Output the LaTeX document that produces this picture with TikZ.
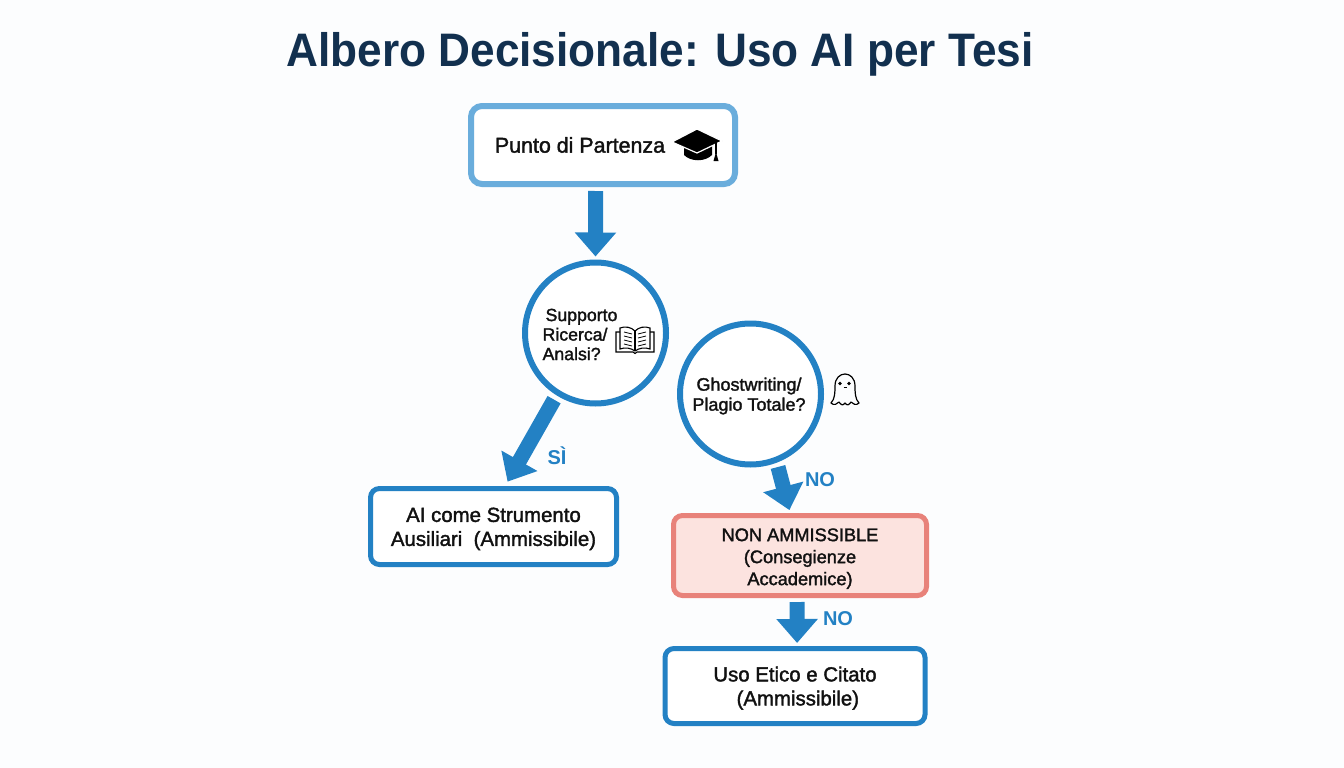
\documentclass[tikz,border=0pt]{standalone}
\usepackage{fontspec}
\setmainfont{Liberation Sans}
\newfontfamily\bodyfont{Liberation Sans}[FakeBold=1.7]
\newfontfamily\titlefont{Liberation Sans}[FakeStretch=0.94]
\usetikzlibrary{arrows.meta}

\definecolor{titlenavy}{HTML}{12304F}
\definecolor{flowblue}{HTML}{2381C4}
\definecolor{startblue}{HTML}{6AADDC}
\definecolor{stopred}{HTML}{E8827A}
\definecolor{stopfill}{HTML}{FCE3DF}
\definecolor{pagewhite}{HTML}{FCFDFE}
\definecolor{inkblack}{HTML}{111111}

\newcommand{\lowertext}[1]{\rule{0pt}{#1}}

\tikzset{
  boxnode/.style={draw=flowblue, fill=white, text=inkblack, line width=5pt, rounded corners=9pt, inner sep=0pt, align=center, font=\bodyfont\fontsize{20.4}{24}\selectfont},
  asknode/.style={draw=flowblue, fill=white, line width=6pt, circle, minimum size=141pt, inner sep=0pt},
  asktext/.style={inner sep=0pt, text=inkblack, align=center, font=\bodyfont\fontsize{18}{20}\selectfont},
  bigarrow/.style={draw=flowblue, line width=15pt, -{Triangle[length=24pt,width=40pt]}},
  answer/.style={inner sep=0pt, text=flowblue, font=\bfseries\fontsize{20}{24}\selectfont},
}

\begin{document}
\begin{tikzpicture}[x=1pt, y=-1pt]
  \path[fill=pagewhite, use as bounding box] (0,0) rectangle (1344,768);

  \node[inner sep=0pt, text=titlenavy, font=\titlefont\bfseries\fontsize{47}{56}\selectfont] (title) at (660,54) {Albero Decisionale: Uso AI per Tesi};

  \node[boxnode, draw=startblue, line width=6pt, rounded corners=11pt, minimum width=264pt, minimum height=78pt] (start) at (603,145) {};
  \node[inner sep=0pt, text=inkblack, font=\bodyfont\fontsize{21.4}{24}\selectfont] (starttext) at (580,145) {Punto di Partenza};

  \node[asknode] (ricerca) at (595.5,333) {};
  \node[asktext, align=left, font=\bodyfont\fontsize{17.7}{19.5}\selectfont] (ricercatext) at (580,334.5) {\hspace*{3pt}Supporto\\Ricerca/\\Analsi?};

  \node[asknode] (ghost) at (750.5,394) {};
  \node[asktext] (ghosttext) at (749,396) {Ghostwriting/\\Plagio Totale?};

  \node[boxnode, minimum width=246pt, minimum height=76pt] (strumento) at (493.5,526.5) {\lowertext{19pt}AI come Strumento\\Ausiliari\ \ (Ammissibile)};
  \node[boxnode, draw=stopred, fill=stopfill, minimum width=253pt, minimum height=80pt, font=\bodyfont\fontsize{18.2}{22}\selectfont] (stop) at (800,555.5) {\lowertext{19pt}NON AMMISSIBLE\\(Consegienze\\Accademice)};
  \node[boxnode, minimum width=260pt, minimum height=75pt] (etico) at (795,686) {\lowertext{19pt}Uso Etico e Citato\\\ (Ammissibile)};

  \draw[bigarrow, shorten <=4pt, shorten >=3pt] (start.-100) -- (ricerca.north);
  \draw[bigarrow, shorten <=5pt, shorten >=5pt] (ricerca.-122) -- (strumento.74);
  \draw[bigarrow, shorten <=4.5pt, shorten >=3pt] (ghost.-69) -- (stop.103);
  \draw[bigarrow, shorten <=4pt, shorten >=3pt] (stop.-94) -- (etico.87);

  \node[answer] (si) at (557,456) {SÌ};
  \node[answer] (noone) at (820,480) {NO};
  \node[answer] (notwo) at (838,619) {NO};

  % cap
  \begin{scope}[shift={(697,146)}]
    \fill[black] (-13,-2) -- (15,-2) -- (15,9) .. controls (8,16) and (-6,16) .. (-13,9) -- cycle;
    \fill[black, draw=white, line width=1.2pt] (-25,-4) -- (0,-17) -- (25,-5) -- (0,7) -- cycle;
    \draw[black, line width=1.2pt] (19,-4) -- (19,8);
    \fill[black] (19,6) -- (21.5,15) -- (16.5,15) -- cycle;
  \end{scope}

  % book
  \begin{scope}[shift={(635,340)}, black, line width=1.1pt]
    \draw (-15,9) .. controls (-10,7) and (-4,8) .. (0,11) .. controls (4,8) and (10,7) .. (15,9) -- (15,-12) .. controls (10,-14) and (4,-13) .. (0,-9) .. controls (-4,-13) and (-10,-14) .. (-15,-12) -- cycle;
    \draw (0,-9) -- (0,11);
    \draw (-15,-8) -- (-19,-8) -- (-19,12) -- (-2,12) -- (0,13.5) -- (2,12) -- (19,12) -- (19,-8) -- (15,-8);
    \foreach \y in {-7,-3,1,5} {
      \draw[line width=.8pt] (-11,\y-1) -- (-3,\y+1);
      \draw[line width=.8pt] (11,\y-1) -- (3,\y+1);
    }
  \end{scope}

  % ghost
  \begin{scope}[shift={(845,390)}]
    \draw[black, line width=1.2pt, line join=round] (-14,13) .. controls (-10,9) and (-10,2) .. (-10,-4) .. controls (-10,-20) and (10,-20) .. (10,-4) .. controls (10,2) and (10,9) .. (14,13) .. controls (11,16) and (8,14) .. (6,12) .. controls (4,15) and (2,16) .. (0,13) .. controls (-2,16) and (-4,15) .. (-6,12) .. controls (-8,14) and (-11,16) .. (-14,13) -- cycle;
    \fill[black] (-5,-6.5) circle [radius=1.9];
    \fill[black] (4,-6.5) circle [radius=1.9];
    \draw[black, line width=.9pt] (-1.5,-2.5) -- (2,-2.5);
  \end{scope}
\end{tikzpicture}
\end{document}
